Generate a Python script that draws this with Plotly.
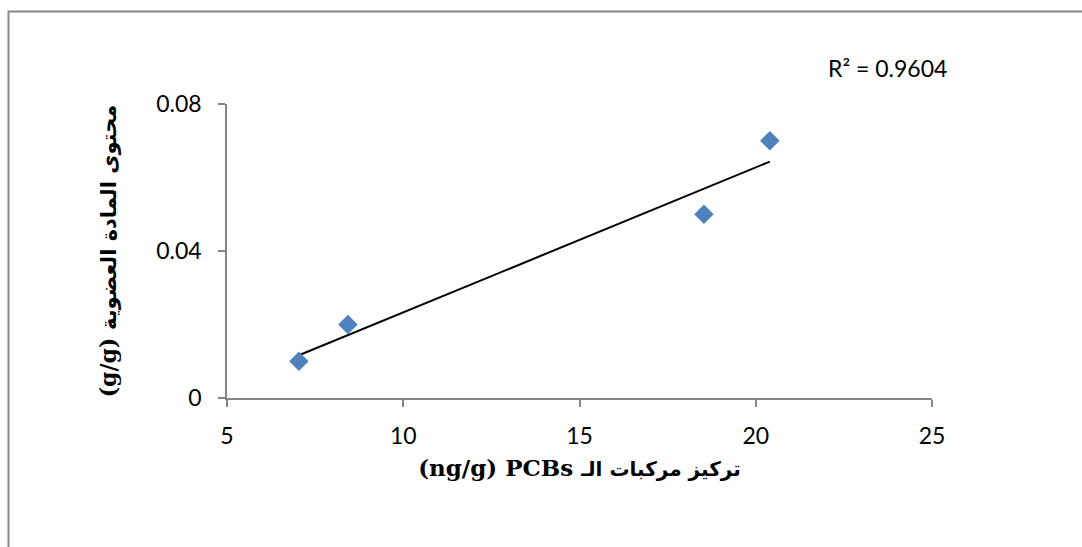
import numpy as np
import plotly.graph_objects as go

# Data
pcb_conc = [7.04, 8.43, 18.53, 20.40]          # x: PCBs concentration (ng/g)
organic_matter = [0.01, 0.02, 0.05, 0.07]      # y: organic matter content (g/g)
x_ticks = [5, 10, 15, 20, 25]
y_ticks = [0, 0.04, 0.08]
y_tick_text = ["0", "0.04", "0.08"]
r2_label = "R² = 0.9604"

x_title_latin = "(ng/g) PCBs "
x_title_arabic = "تركيز مركبات الـ"
y_title_latin = "(g/g) "
y_title_arabic = "محتوى المادة العضوية"

# Linear trendline from data
slope, intercept = np.polyfit(pcb_conc, organic_matter, 1)
tx = [min(pcb_conc), max(pcb_conc)]
ty = [slope * v + intercept for v in tx]

W, H = 1082, 547
ml, mr, mt, mb = 227, 150, 104, 149
pw, ph = W - ml - mr, H - mt - mb

def px_to_paper_x(p):
    return (p - ml) / pw

def py_to_paper_y(p):
    return (H - mb - p) / ph

def title_html(latin, arabic, latin_size, arabic_size):
    return ('<b><span style="font-family:DejaVu Serif;font-size:%dpx">%s</span>'
            '<span style="font-family:DejaVu Sans;font-size:%dpx">%s</span></b>'
            % (latin_size, latin, arabic_size, arabic))

fig = go.Figure()
fig.add_trace(go.Scatter(
    x=tx, y=ty, mode="lines",
    line=dict(color="black", width=2),
    showlegend=False, hoverinfo="skip",
))
fig.add_trace(go.Scatter(
    x=pcb_conc, y=organic_matter, mode="markers",
    marker=dict(symbol="diamond", size=15, color="#4F81BD", line=dict(width=0)),
    showlegend=False,
))

axis_color = "#868686"
tick_font = dict(family="Lato, Carlito, sans-serif", size=23, color="black")
title_font = dict(family="DejaVu Serif, DejaVu Sans, serif", size=22, color="black")

fig.update_xaxes(
    range=[5, 25], tickvals=x_ticks,
    showline=True, linecolor=axis_color, linewidth=1.5,
    ticks="outside", ticklen=7, tickcolor=axis_color, tickwidth=1.5,
    showgrid=False, zeroline=False, tickfont=tick_font,
    ticklabelstandoff=10,
    title=dict(text=title_html(x_title_latin, x_title_arabic, 23, 20),
               font=title_font, standoff=12),
)
fig.update_yaxes(
    range=[0, 0.08], tickvals=y_ticks, ticktext=y_tick_text,
    showline=True, linecolor=axis_color, linewidth=1.5,
    ticks="outside", ticklen=7, tickcolor=axis_color, tickwidth=1.5,
    showgrid=False, zeroline=False, tickfont=tick_font,
    ticklabelstandoff=12,
    title=dict(text=title_html(y_title_latin, y_title_arabic, 22, 21),
               font=title_font, standoff=33),
)

fig.add_shape(
    type="rect", xref="paper", yref="paper",
    x0=px_to_paper_x(8.5), x1=px_to_paper_x(1100),
    y0=py_to_paper_y(570), y1=py_to_paper_y(11.5),
    line=dict(color=axis_color, width=2), fillcolor="rgba(0,0,0,0)",
    layer="below",
)

fig.add_annotation(
    x=px_to_paper_x(887), y=py_to_paper_y(68), xref="paper", yref="paper",
    text=r2_label, showarrow=False,
    font=dict(family="Lato, Carlito, sans-serif", size=23, color="black"),
    xanchor="center", yanchor="middle",
)

fig.update_layout(
    width=W, height=H,
    margin=dict(l=ml, r=mr, t=mt, b=mb),
    paper_bgcolor="white", plot_bgcolor="white",
)

fig.write_html("out.html")
